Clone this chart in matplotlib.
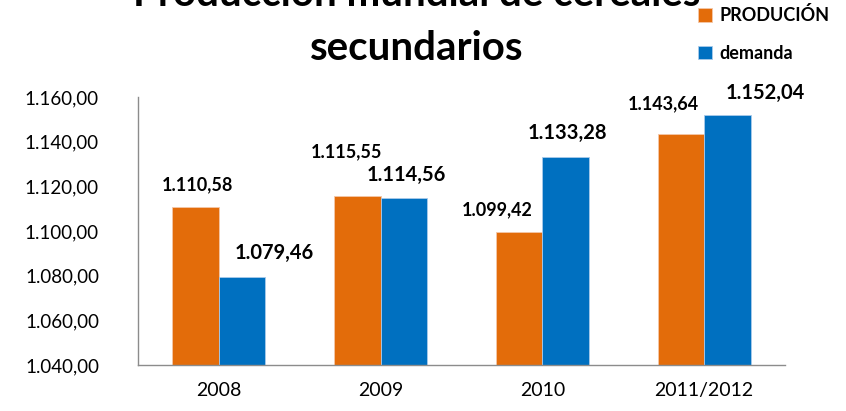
import matplotlib
matplotlib.use("Agg")
import matplotlib.pyplot as plt
import numpy as np

plt.rcParams['font.family'] = ['Lato', 'DejaVu Sans']

categories = ["2008", "2009", "2010", "2011/2012"]
produccion = [1110.58, 1115.55, 1099.42, 1143.64]
demanda = [1079.46, 1114.56, 1133.28, 1152.04]
prod_labels = ["1.110,58", "1.115,55", "1.099,42", "1.143,64"]
dem_labels = ["1.079,46", "1.114,56", "1.133,28", "1.152,04"]
yticks = [1040, 1060, 1080, 1100, 1120, 1140, 1160]
ytick_labels = ["1.040,00", "1.060,00", "1.080,00", "1.100,00", "1.120,00", "1.140,00", "1.160,00"]

ORANGE = "#E36C0A"
BLUE = "#0070C0"

fig = plt.figure(figsize=(8.46, 4.11), dpi=100)
ax = fig.add_axes([0.163, 0.112, 0.765, 0.652])

x = np.arange(len(categories))
w = 0.288
base = 1040
ax.bar(x - w / 2, np.array(produccion) - base, w, bottom=base, color=ORANGE,
       edgecolor="#F4C7A8", linewidth=0.6, label="PRODUCIÓN")
ax.bar(x + w / 2, np.array(demanda) - base, w, bottom=base, color=BLUE,
       edgecolor="#A9CBEA", linewidth=0.6, label="demanda")

ax.set_xlim(-0.5, len(categories) - 0.5)
ax.set_ylim(1040, 1160)
ax.set_yticks(yticks)
ax.set_yticklabels(ytick_labels, fontsize=13.5)
ax.set_xticks(x)
ax.set_xticklabels(categories, fontsize=14)
ax.tick_params(axis="both", length=0, colors="#000000")
ax.tick_params(axis="y", pad=28)
ax.tick_params(axis="x", pad=12)
for s in ["top", "right"]:
    ax.spines[s].set_visible(False)
for s in ["left", "bottom"]:
    ax.spines[s].set_color("#8C8C8C")
    ax.spines[s].set_linewidth(1.0)

# Value labels, offset from the bar tops (in pixels)
prod_offsets = [(2, 23), (-11, 45), (-22, 23), (-18, 30)]
dem_offsets = [(32, 24), (2.5, 23), (2, 24), (38, 22)]
for i in range(len(categories)):
    dx, dy = prod_offsets[i]
    ax.annotate(prod_labels[i], (x[i] - w / 2, produccion[i]),
                xytext=(dx, dy), textcoords="offset pixels",
                ha="center", va="center", fontsize=13, fontweight="bold")
    dx, dy = dem_offsets[i]
    ax.annotate(dem_labels[i], (x[i] + w / 2, demanda[i]),
                xytext=(dx, dy), textcoords="offset pixels",
                ha="center", va="center", fontsize=14.5, fontweight="bold")

# Title (two lines; the first sits at the upper edge)
fig.text(417 / 846, 1 - 6 / 411, "Producción mundial de cereales",
         ha="center", va="baseline", fontsize=29, fontweight="bold")
fig.text(417 / 846, 1 - 60 / 411, "secundarios",
         ha="center", va="baseline", fontsize=29, fontweight="bold")

leg = fig.legend(loc="upper left", bbox_to_anchor=(698 / 846, 1 - 6 / 411),
                 frameon=False, borderpad=0, borderaxespad=0,
                 handlelength=0.78, handleheight=0.78,
                 handletextpad=0.4, labelspacing=1.15,
                 prop={"weight": "bold", "size": 13})

fig.savefig("out.png", dpi=100)
